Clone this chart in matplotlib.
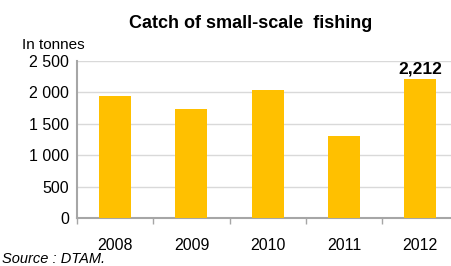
import numpy as np
import matplotlib
matplotlib.use("Agg")
import matplotlib.pyplot as plt
from matplotlib.ticker import FuncFormatter

years = ["2008", "2009", "2010", "2011", "2012"]
catch = [1945, 1740, 2045, 1305, 2212]
y_ticks = [0, 500, 1000, 1500, 2000, 2500]

plt.rcParams["font.family"] = ["Liberation Sans", "DejaVu Sans"]

fig = plt.figure(figsize=(4.51, 2.66), dpi=100)
# plot area runs slightly past the right edge, as in the original crop
ax = fig.add_axes([0.171, 0.180, 0.845, 0.591])

x = np.arange(len(years))
ax.bar(x, catch, width=0.42, color="#FFC000", zorder=3)

ax.set_xlim(-0.5, len(years) - 0.5)
ax.set_ylim(0, 2500)
ax.set_yticks(y_ticks)
ax.yaxis.set_major_formatter(FuncFormatter(lambda v, p: f"{int(v):,}".replace(",", " ")))
ax.set_xticks(x)
ax.set_xticklabels(years)
ax.set_xticks(np.arange(-0.5, len(years)), minor=True)
ax.tick_params(axis="x", which="major", length=0, pad=14, labelsize=11.5)
ax.tick_params(axis="x", which="minor", length=4, width=1, color="#a6a6a6", direction="out")
ax.tick_params(axis="y", length=0, pad=6, labelsize=11.5)

ax.grid(axis="y", color="#d9d9d9", linewidth=1, zorder=0)
for s in ["top", "right"]:
    ax.spines[s].set_visible(False)
for s in ["left", "bottom"]:
    ax.spines[s].set_color("#a6a6a6")
    ax.spines[s].set_linewidth(1.5)

ax.text(x[-1], catch[-1] + 40, f"{catch[-1]:,}", ha="center", va="bottom",
        fontsize=12.5, fontweight="bold")

fig.text(0.555, 0.912, "Catch of small-scale  fishing", ha="center", va="center",
         fontsize=13, fontweight="bold")
fig.text(0.049, 0.832, "In tonnes", ha="left", va="center", fontsize=11)
fig.text(0.004, 0.025, "Source : DTAM.", ha="left", va="center", fontsize=10.5, style="italic")

fig.savefig("out.png", dpi=100)
